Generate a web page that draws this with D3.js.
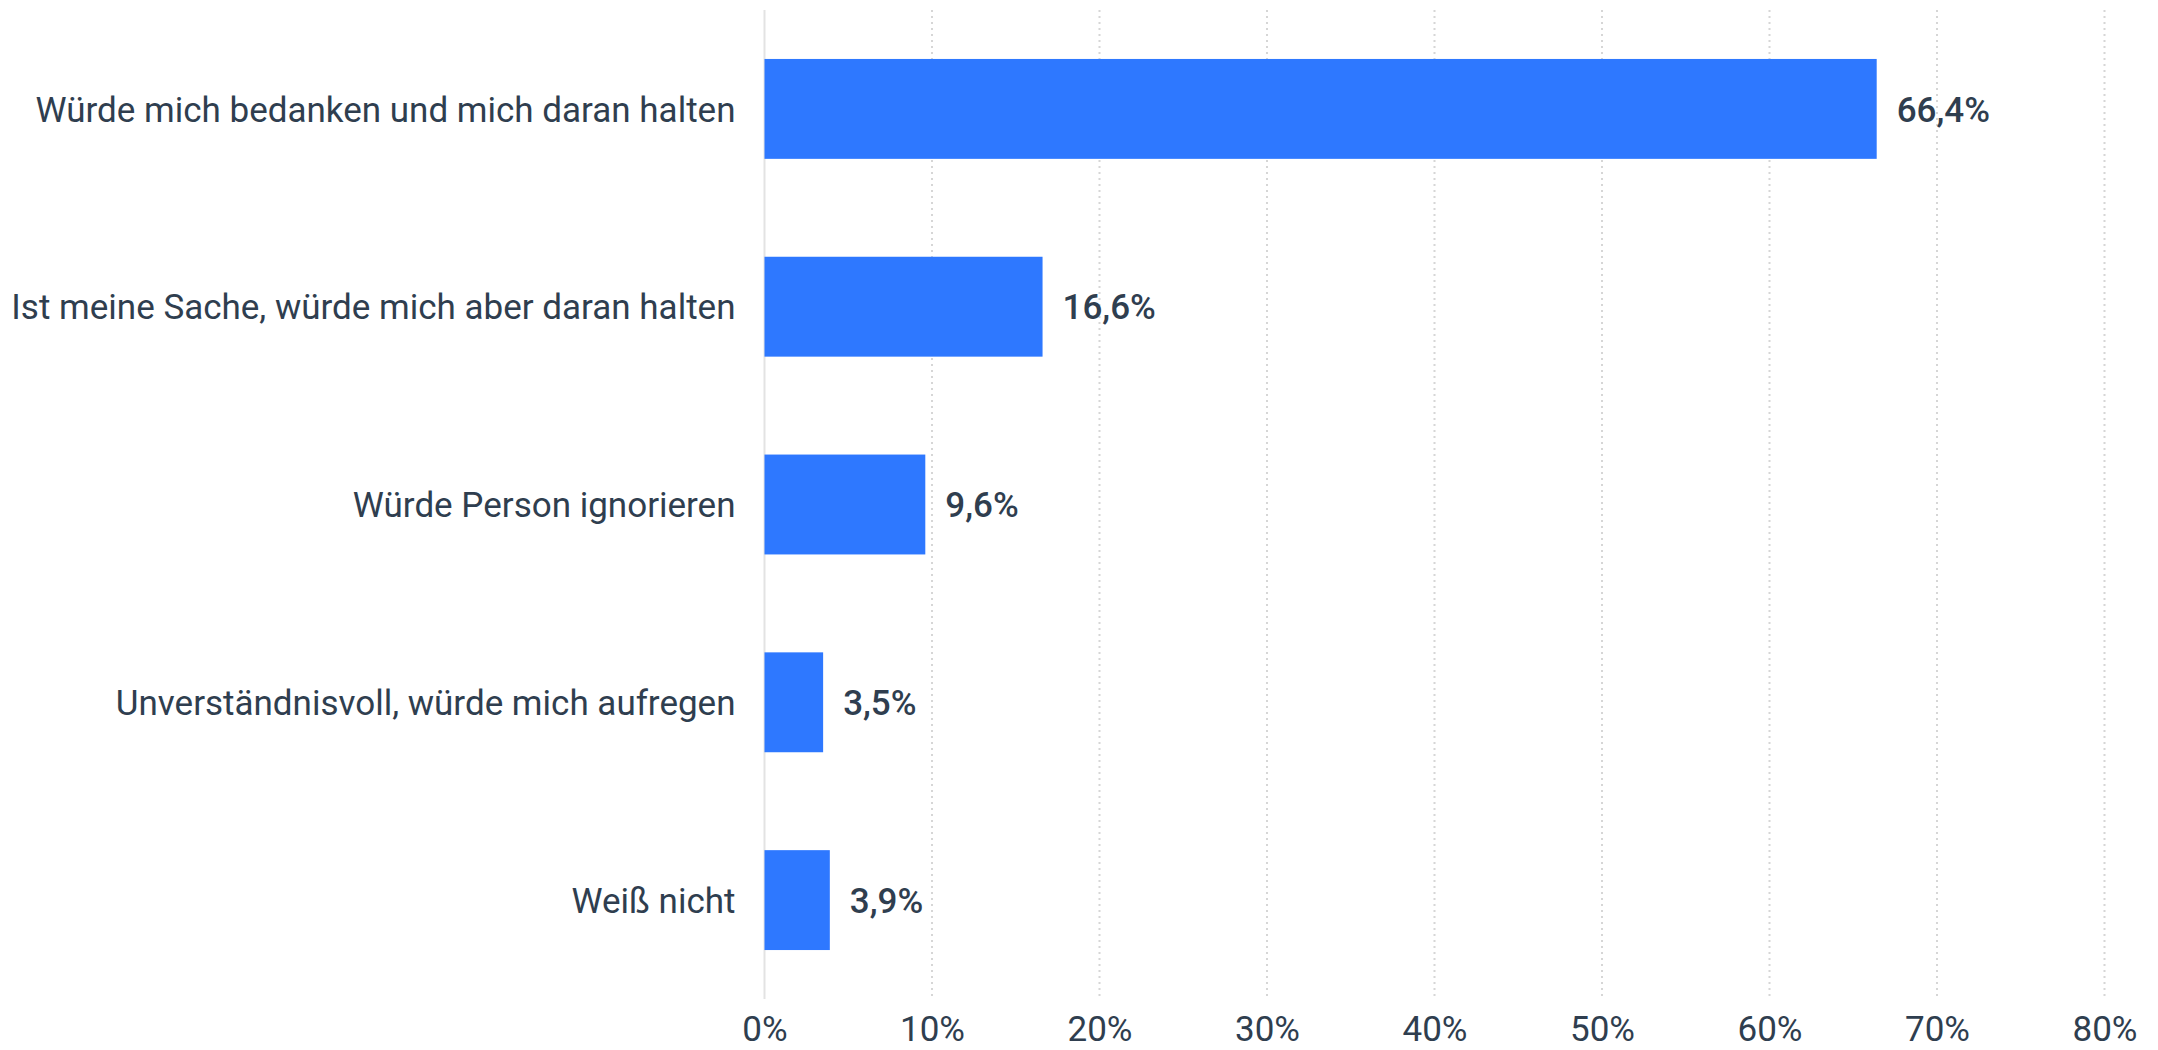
<!DOCTYPE html>
<html>
<head>
<meta charset="utf-8">
<script src="https://cdn.jsdelivr.net/npm/d3@7"></script>
<style>
  html, body { margin: 0; padding: 0; background: #fff; }
  svg text { font-family: Roboto, "Noto Sans", sans-serif; }
</style>
</head>
<body>
<svg id="chart"></svg>
<script>
/* CONSTANTS AND GLOBALS */
const width = 2158,
  height = 1050,
  margin = { top: 10, bottom: 51, left: 764.5, right: 53.5 };

// chart data
const categories = [
  "Würde mich bedanken und mich daran halten",
  "Ist meine Sache, würde mich aber daran halten",
  "Würde Person ignorieren",
  "Unverständnisvoll, würde mich aufregen",
  "Weiß nicht"
];
const values = [66.4, 16.6, 9.6, 3.5, 3.9];
const tickValues = [0, 10, 20, 30, 40, 50, 60, 70, 80];

const barColor = "#2e78ff";
const textColor = "#2f3e4f";
const fontSize = 35;

const svg = d3.select("#chart")
  .attr("width", width)
  .attr("height", height);

// scales
const x = d3.scaleLinear()
  .domain([0, 80])
  .range([margin.left, width - margin.right]);

const y = d3.scaleBand()
  .domain(categories)
  .range([margin.top, height - margin.bottom])
  .paddingInner(0.495)
  .paddingOuter(0.2475);

// dotted gridlines
svg.append("g")
  .selectAll("line")
  .data(tickValues.slice(1))
  .join("line")
    .attr("x1", d => x(d))
    .attr("x2", d => x(d))
    .attr("y1", margin.top)
    .attr("y2", height - margin.bottom)
    .attr("stroke", "#d6d6d6")
    .attr("stroke-width", 2)
    .attr("stroke-dasharray", "2,4");

// solid baseline at 0
svg.append("line")
  .attr("x1", x(0))
  .attr("x2", x(0))
  .attr("y1", margin.top)
  .attr("y2", height - margin.bottom)
  .attr("stroke", "#e3e3e3")
  .attr("stroke-width", 2);

// bars
svg.append("g")
  .selectAll("rect")
  .data(values)
  .join("rect")
    .attr("x", x(0))
    .attr("y", (d, i) => y(categories[i]))
    .attr("width", d => x(d) - x(0))
    .attr("height", y.bandwidth())
    .attr("fill", barColor);

// value labels
const fmt = d => d.toFixed(1).replace(".", ",") + "%";
svg.append("g")
  .selectAll("text")
  .data(values)
  .join("text")
    .attr("x", d => x(d) + 20)
    .attr("y", (d, i) => y(categories[i]) + y.bandwidth() / 2)
    .attr("dy", "0.36em")
    .attr("font-size", fontSize)
    .attr("font-weight", 500)
    .attr("fill", textColor)
    .text(fmt);

// category labels (y axis)
const yAxis = d3.axisLeft(y).tickSize(0).tickPadding(29);
svg.append("g")
  .attr("transform", `translate(${x(0)},0)`)
  .call(yAxis)
  .call(g => g.select(".domain").remove())
  .selectAll("text")
    .attr("font-size", fontSize)
    .attr("dy", "0.36em")
    .attr("fill", textColor)
    .attr("font-family", "Roboto, 'Noto Sans', sans-serif");

// x axis tick labels
const xAxis = d3.axisBottom(x)
  .tickValues(tickValues)
  .tickFormat(d => d + "%")
  .tickSize(0)
  .tickPadding(17);
svg.append("g")
  .attr("transform", `translate(0,${height - margin.bottom})`)
  .call(xAxis)
  .call(g => g.select(".domain").remove())
  .selectAll("text")
    .attr("font-size", fontSize)
    .attr("fill", textColor)
    .attr("font-family", "Roboto, 'Noto Sans', sans-serif");
</script>
</body>
</html>
